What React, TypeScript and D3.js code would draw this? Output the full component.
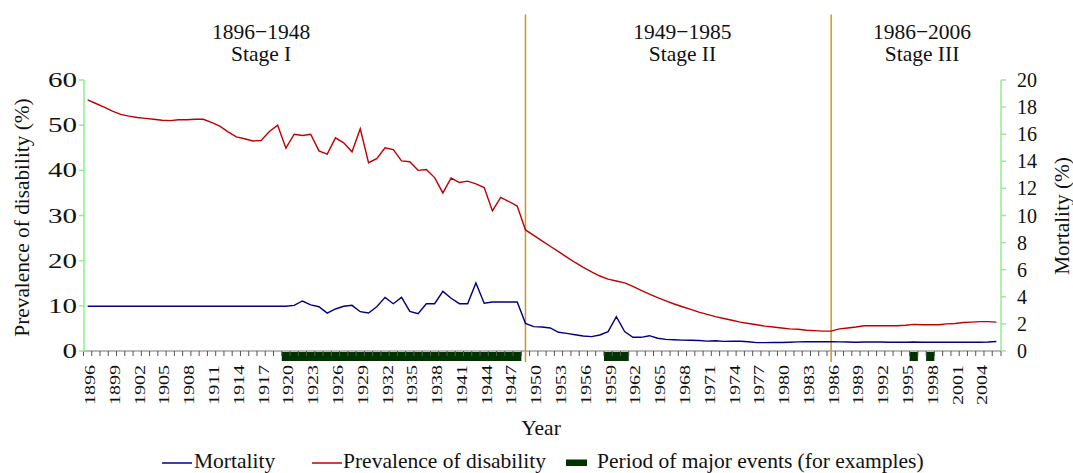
import { range, scaleBand, scaleLinear, line } from 'd3';

// categories
const startYear = 1896
const years = range(startYear, 2007)

// series values, one per year 1896..2006
const prevalence = [
  55.6, 54.8, 54.0, 53.1, 52.4, 52.0, 51.7, 51.5, 51.3, 51.1,
  51.0, 51.2, 51.2, 51.3, 51.3, 50.6, 49.8, 48.5, 47.4, 47.0,
  46.5, 46.6, 48.6, 50.0, 44.9, 48.0, 47.7, 48.0, 44.3, 43.6,
  47.2, 46.1, 44.1, 49.2, 41.7, 42.6, 45.0, 44.6, 42.1, 41.9,
  40.0, 40.2, 38.4, 35.0, 38.3, 37.3, 37.6, 37.0, 36.2, 31.0,
  34.0, 33.1, 32.1, 26.8, 25.6, 24.4, 23.2, 22.0, 20.8, 19.6,
  18.5, 17.5, 16.6, 15.9, 15.5, 15.1, 14.3, 13.4, 12.6, 11.8,
  11.1, 10.4, 9.8, 9.2, 8.6, 8.1, 7.6, 7.2, 6.8, 6.4,
  6.1, 5.8, 5.5, 5.3, 5.1, 4.9, 4.8, 4.6, 4.5, 4.4,
  4.4, 4.9, 5.1, 5.3, 5.6, 5.6, 5.6, 5.6, 5.6, 5.7,
  5.9, 5.8, 5.8, 5.8, 6.0, 6.1, 6.3, 6.4, 6.5, 6.5, 6.4,
]

const mortality = [
  3.3, 3.3, 3.3, 3.3, 3.3, 3.3, 3.3, 3.3, 3.3, 3.3,
  3.3, 3.3, 3.3, 3.3, 3.3, 3.3, 3.3, 3.3, 3.3, 3.3,
  3.3, 3.3, 3.3, 3.3, 3.3, 3.37, 3.69, 3.40, 3.27, 2.80,
  3.10, 3.30, 3.37, 2.90, 2.80, 3.27, 3.96, 3.49, 3.96, 2.93,
  2.75, 3.49, 3.49, 4.40, 3.89, 3.49, 3.49, 5.02, 3.52, 3.62,
  3.62, 3.62, 3.62, 2.04, 1.80, 1.77, 1.70, 1.38, 1.30, 1.20,
  1.11, 1.06, 1.18, 1.43, 2.53, 1.43, 1.01, 1.01, 1.13, 0.94,
  0.86, 0.83, 0.80, 0.79, 0.77, 0.73, 0.76, 0.71, 0.73, 0.72,
  0.68, 0.62, 0.62, 0.63, 0.63, 0.65, 0.67, 0.68, 0.68, 0.68,
  0.68, 0.67, 0.66, 0.65, 0.66, 0.66, 0.66, 0.65, 0.65, 0.65,
  0.66, 0.65, 0.65, 0.65, 0.65, 0.65, 0.65, 0.65, 0.65, 0.66, 0.70,
]

// periods of major events [from, to]
const eventStarts = [1920, 1959, 1996, 1998]
const eventEnds = [1948, 1961, 1996, 1998]

// stage boundaries and labels
const stageBreaks = [1949, 1986]
const stageRanges = ['1896−1948', '1949−1985', '1986−2006']
const stageNames = ['Stage I', 'Stage II', 'Stage III']
const stageLabelYears = [1917, 1968, 1997]

const font = '"Liberation Serif", "Times New Roman", serif'
const RED = '#c00000'
const BLUE = '#000080'
const GREEN_AXIS = '#90ee90'
const EVENT = '#003300'
const GOLD = '#c89b1e'

const top = 80
const bottom = 351

const App = () => {
  const x = scaleBand<number>().domain(years).range([83.5, 1000.5])
  const cx = (yr: number) => x(yr)! + x.bandwidth() / 2
  const yLeft = scaleLinear().domain([0, 60]).range([bottom, top])
  const yRight = scaleLinear().domain([0, 20]).range([bottom, top])

  const redPath = line<number>()
    .x((_, i) => cx(years[i]))
    .y(d => yLeft(d))(prevalence)
  const bluePath = line<number>()
    .x((_, i) => cx(years[i]))
    .y(d => yRight(d))(mortality)

  const xStart = 84
  const xEnd = 1001
  const labelYears = years.filter(y => (y - startYear) % 3 === 0)

  return (
    <svg width={1073} height={473} style={{ position: 'absolute', left: 0, top: 0, background: '#fff' }}
      fontFamily={font}>
      {/* stage labels */}
      {stageRanges.map((r, i) => (
        <g key={r} textAnchor="middle" fontSize={21.5} fill="#111">
          <text x={cx(stageLabelYears[i])} y={38.5}>{r}</text>
          <text x={cx(stageLabelYears[i])} y={60.5}>{stageNames[i]}</text>
        </g>
      ))}

      {/* event bars */}
      {eventStarts.map((s, i) => (
        <rect key={s} x={x(s)!} y={bottom + 1} width={x(eventEnds[i])! + x.bandwidth() - x(s)!}
          height={9} fill={EVENT} />
      ))}

      {/* x axis */}
      <line x1={xStart} x2={xEnd} y1={bottom} y2={bottom} stroke="#777" strokeWidth={1.2} />
      {years.map(yr => (
        <line key={yr} x1={x(yr)!} x2={x(yr)!} y1={bottom} y2={bottom + 5} stroke="#555" strokeWidth={1} />
      ))}
      <line x1={xEnd} x2={xEnd} y1={bottom} y2={bottom + 5} stroke="#555" />
      {labelYears.map(yr => (
        <text key={yr} transform={`translate(${cx(yr) + 2},${bottom + 14}) rotate(-90)`}
          textAnchor="end" dominantBaseline="central" fontSize={15.5}
          textLength={40} lengthAdjust="spacingAndGlyphs" fill="#111">{yr}</text>
      ))}
      <text x={541} y={435} textAnchor="middle" fontSize={21.5} fill="#111">Year</text>

      {/* left axis */}
      <line x1={xStart} x2={xStart} y1={top} y2={bottom} stroke={GREEN_AXIS} strokeWidth={1.5} />
      {yLeft.ticks(6).map(t => (
        <g key={t}>
          <line x1={xStart - 5} x2={xStart} y1={yLeft(t)} y2={yLeft(t)} stroke={GREEN_AXIS} strokeWidth={1.5} />
          <text x={77} y={yLeft(t)} textAnchor="end" dominantBaseline="central" fontSize={20}
            textLength={String(t).length * 14.5} lengthAdjust="spacingAndGlyphs" fill="#111">{t}</text>
        </g>
      ))}
      <text transform={`translate(29,217.5) rotate(-90)`} textAnchor="middle" fontSize={21.3} fill="#111">
        Prevalence of disability (%)
      </text>

      {/* right axis */}
      <line x1={xEnd} x2={xEnd} y1={top} y2={bottom} stroke={GREEN_AXIS} strokeWidth={1.5} />
      {yRight.ticks(10).map(t => (
        <g key={t}>
          <line x1={xEnd} x2={xEnd + 5} y1={yRight(t)} y2={yRight(t)} stroke={GREEN_AXIS} strokeWidth={1.5} />
          <text x={1017} y={yRight(t)} dominantBaseline="central" fontSize={20} fill="#111">{t}</text>
        </g>
      ))}
      <text transform={`translate(1069,216) rotate(-90)`} textAnchor="middle" fontSize={21.3} fill="#111">
        Mortality (%)
      </text>

      {/* stage separators */}
      {stageBreaks.map(b => (
        <line key={b} x1={cx(b)} x2={cx(b)} y1={14.5} y2={362} stroke={GOLD} strokeWidth={1.5} />
      ))}

      {/* series */}
      <path d={redPath!} fill="none" stroke={RED} strokeWidth={1.4} />
      <path d={bluePath!} fill="none" stroke={BLUE} strokeWidth={1.4} />

      {/* legend */}
      <g fontSize={21.5} fill="#111">
        <line x1={162} x2={192} y1={463} y2={463} stroke={BLUE} strokeWidth={1.5} />
        <text x={194} y={468}>Mortality</text>
        <line x1={312} x2={342} y1={463} y2={463} stroke={RED} strokeWidth={1.5} />
        <text x={343} y={468}>Prevalence of disability</text>
        <rect x={566} y={459.5} width={21} height={6.5} fill={EVENT} />
        <text x={597} y={468}>Period of major events (for examples)</text>
      </g>
    </svg>
  )
}

export default App
